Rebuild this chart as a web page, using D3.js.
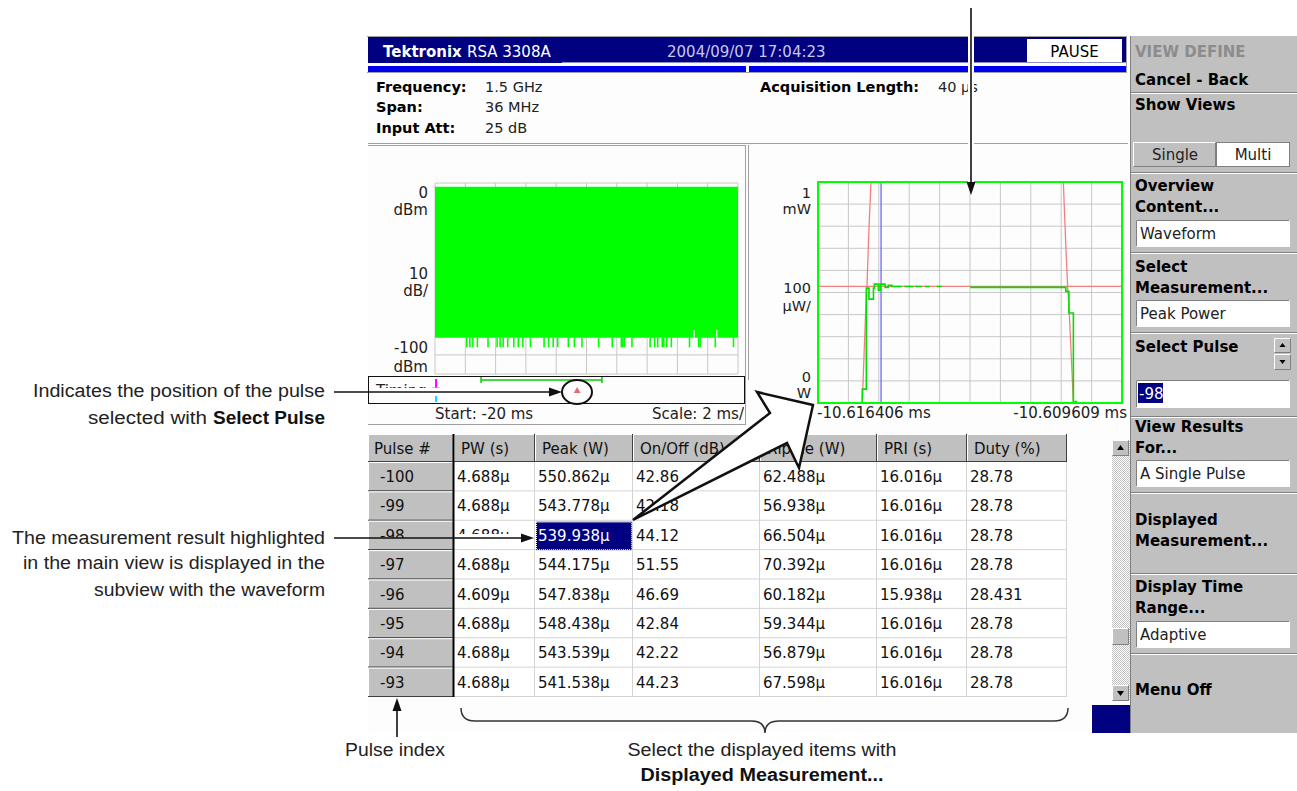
<!DOCTYPE html>
<html><head><meta charset="utf-8">
<script src="https://cdn.jsdelivr.net/npm/d3@7"></script>
<style>
html,body{margin:0;padding:0;background:#fff;}
svg{display:block;font-family:"DejaVu Sans",sans-serif;}
</style></head><body>
<svg id="c" width="1297" height="791"></svg>
<script>
// ---------------- DATA ----------------
const headerTitle = ["Tektronix", "RSA 3308A"];
const headerTime = "2004/09/07 17:04:23";
const headerState = "PAUSE";
const infoLabels = ["Frequency:", "Span:", "Input Att:"];
const infoValues = ["1.5 GHz", "36 MHz", "25 dB"];
const acqLabel = "Acquisition Length:";
const acqValue = "40 μs";

// overview (time domain, ms / dBm)
const overviewDomain = [-20, 0];
const overviewRange = [0, -100];
const overviewTop = -2;
const overviewFloor = -81;
const spikeTimes = [-17.9,-17.7,-17.5,-17.2,-16.5,-15.9,-15.7,-15.5,-15.2,-14.8,-14.5,-14.2,-13.7,-12.8,-12.5,-12.2,-11.9,-11.2,-10.8,-10.3,-9.2,-8.3,-7.7,-7.6,-7.5,-7.0,-5.8,-5.5,-5.3,-5.0,-4.9,-4.7,-4.4,-3.2,-2.6,-2.5,-1.5,-0.3];
const spikeLevels = [-86,-86,-86,-86,-86,-86,-86,-86,-86,-86,-86,-86,-86,-86,-86,-86,-86,-86,-86,-86,-86,-86,-86,-86,-86,-86,-86,-86,-86,-86,-86,-86,-86,-86,-86,-86,-86,-86];
const dropoutTimes = [-2.9, -1.4];
const dropoutLevel = -77;
const overviewYLabels = [["0","dBm"],["10","dB/"],["-100","dBm"]];
const overviewStart = "Start: -20 ms";
const overviewScale = "Scale: 2 ms/";
const timingLabel = "Timing:";
const analyzedRange = [-16.96, -8.98];
const triggerTime = -19.93;
const selectedPulseTime = -10.616;

// subview waveform (μs from start, μW)
const waveDomain = [0, 6.797];
const waveRange = [0, 1000];
const greenTrace = [[0,0],[0.99,63],[1.08,520],[1.14,470],[1.24,520],[1.26,538],[1.35,510],[1.39,538],[1.50,523],[1.57,533],[1.65,527],[1.87,527],[1.87,null],[1.93,527],[2.13,527],[2.13,null],[2.17,527],[2.32,527],[2.32,null],[2.39,527],[2.50,527],[2.50,null],[2.65,527],[2.77,527],[2.77,null],[3.40,523],[5.54,505],[5.61,407],[5.71,0],[5.75,7],[5.78,0],[6.797,0]];
const redLeft = [[0.99,0],[1.066,415],[1.096,536],[1.14,792],[1.185,1000]];
const redRight = [[5.485,1000],[5.54,716],[5.583,520],[5.61,445],[5.71,0]];
const redLevel = 528;
const blueMarker = 1.41;
const blueBaseline = [[1.0,0],[5.75,0]];
const waveYLabels = [["1","mW"],["100","μW/"],["0","W"]];
const waveXLabels = ["-10.616406 ms", "-10.609609 ms"];

// table
const tableColumns = ["Pulse #","PW (s)","Peak (W)","On/Off (dB)","Ripple (W)","PRI (s)","Duty (%)"];
const pulseIds = ["-100","-99","-98","-97","-96","-95","-94","-93"];
const pwValues = ["4.688μ","4.688μ","4.688μ","4.688μ","4.609μ","4.688μ","4.688μ","4.688μ"];
const peakValues = ["550.862μ","543.778μ","539.938μ","544.175μ","547.838μ","548.438μ","543.539μ","541.538μ"];
const onOffValues = ["42.86","42.18","44.12","51.55","46.69","42.84","42.22","44.23"];
const rippleValues = ["62.488μ","56.938μ","66.504μ","70.392μ","60.182μ","59.344μ","56.879μ","67.598μ"];
const priValues = ["16.016μ","16.016μ","16.016μ","16.016μ","15.938μ","16.016μ","16.016μ","16.016μ"];
const dutyValues = ["28.78","28.78","28.78","28.78","28.431","28.78","28.78","28.78"];
const selectedPulse = "-98";
const selectedColumn = 2;

// menu
const menuTitle = "VIEW DEFINE";
const menuItems = ["Cancel - Back","Show Views","Overview|Content...","Select|Measurement...","Select Pulse","View Results|For...","Displayed|Measurement...","Display Time|Range...","Menu Off"];
const viewButtons = ["Single","Multi"];
const menuBoxes = ["Waveform","Peak Power","-98","A Single Pulse","Adaptive"];

// annotations
const noteSelect = ["Indicates the position of the pulse", "selected with ", "Select Pulse"];
const noteHighlight = ["The measurement result highlighted","in the main view is displayed in the","subview with the waveform"];
const notePulseIndex = "Pulse index";
const noteDisplayed = ["Select the displayed items with","Displayed Measurement..."];

// ---------------- DRAW ----------------
const svg = d3.select("#c");
const F = 15;

function rect(g,x,y,w,h,fill,stroke){
  const r=g.append("rect").attr("x",x).attr("y",y).attr("width",w).attr("height",h).attr("fill",fill||"none");
  if(stroke) r.attr("stroke",stroke);
  return r;
}
function hline(g,x1,x2,y,c,w){g.append("line").attr("x1",x1).attr("x2",x2).attr("y1",y).attr("y2",y).attr("stroke",c).attr("stroke-width",w||1);}
function vline(g,x,y1,y2,c,w){g.append("line").attr("x1",x).attr("x2",x).attr("y1",y1).attr("y2",y2).attr("stroke",c).attr("stroke-width",w||1);}
function bevel(g,x,y,w,h,raised,fill){
  rect(g,x,y,w,h,fill||"#c0c0c0");
  const hi = raised?"#ffffff":"#808080", lo = raised?"#808080":"#ffffff";
  g.append("path").attr("d",`M${x+0.5},${y+h-0.5}V${y+0.5}H${x+w-0.5}`).attr("stroke",hi).attr("fill","none");
  g.append("path").attr("d",`M${x+0.5},${y+h-0.5}H${x+w-0.5}V${y+0.5}`).attr("stroke",lo).attr("fill","none");
}
function text(g,x,y,s,opt){
  opt=opt||{};
  const t=g.append("text").attr("x",x).attr("y",y).text(s)
    .attr("font-size",opt.size||F).attr("fill",opt.fill||"#000")
    .attr("font-weight",opt.bold?"bold":"normal")
    .attr("text-anchor",opt.anchor||"start");
  if(opt.family) t.attr("font-family",opt.family);
  if(opt.len) t.attr("textLength",opt.len).attr("lengthAdjust","spacingAndGlyphs");
  return t;
}

const scr = svg.append("g");
rect(scr,368,36,762,697,"#fdfdfd");

// ---- title bar
hline(scr,367,1127,36.5,"#a0a0a0");
rect(scr,368,37,758,26,"#000080");
hline(scr,562,1126,62.5,"#9090c0");
rect(scr,368,66,378,6,"#0000f0");
rect(scr,749,66,377,6,"#0000f0");
hline(scr,367,1127,72.5,"#a0a0a0");
vline(scr,1126.5,36,73,"#a0a0a0");
text(scr,383,57,headerTitle[0],{fill:"#fff",bold:true});
text(scr,467,57,headerTitle[1],{fill:"#fff"});
text(scr,667,57,headerTime,{fill:"#c8c8e8"});
rect(scr,1027,39,95,23,"#ffffff");
text(scr,1074.5,57,headerState,{anchor:"middle"});

// ---- info
infoLabels.forEach((l,i)=>{
  const y=[92,112,133][i];
  text(scr,376,y,l,{bold:true,size:14.5});
  text(scr,485,y,infoValues[i],{fill:"#222",size:14.5});
});
text(scr,760,92,acqLabel,{bold:true,size:14.5});
text(scr,938,92,acqValue,{fill:"#222",size:14.5});
hline(scr,368,1128,143.5,"#a0a0a0");

// ---- left overview panel
hline(scr,368,746,145.5,"#a0a0a0");
vline(scr,745.5,145,424,"#a0a0a0");
hline(scr,368,746,424.5,"#a0a0a0");
vline(scr,748.5,145,380,"#a0a0a0");

const ovX = d3.scaleLinear().domain(overviewDomain).range([435,738]);
const ovY = d3.scaleLinear().domain(overviewRange).range([183,374]);
const ov = scr.append("g");
ov.selectAll("line.gx").data(ovX.ticks(10)).join("line").attr("class","gx")
  .attr("x1",d=>ovX(d)).attr("x2",d=>ovX(d)).attr("y1",ovY(0)).attr("y2",ovY(-100))
  .attr("stroke","#c8c8c8");
ov.selectAll("line.gy").data(ovY.ticks(10)).join("line").attr("class","gy")
  .attr("x1",ovX(-20)).attr("x2",ovX(0)).attr("y1",d=>ovY(d)).attr("y2",d=>ovY(d))
  .attr("stroke","#c8c8c8");
const ovArea = d3.area().x(d=>ovX(d)).y0(ovY(overviewFloor)).y1(ovY(overviewTop));
ov.append("path").datum(overviewDomain).attr("d",ovArea).attr("fill","#00ff00");
ov.selectAll("line.sp").data(spikeTimes).join("line").attr("class","sp")
  .attr("x1",d=>ovX(d)).attr("x2",d=>ovX(d)).attr("y1",ovY(overviewFloor)).attr("y2",(d,i)=>ovY(spikeLevels[i]))
  .attr("stroke","#00ff00").attr("stroke-width",1.6);
ov.selectAll("line.dr").data(dropoutTimes).join("line").attr("class","dr")
  .attr("x1",d=>ovX(d)).attr("x2",d=>ovX(d)).attr("y1",ovY(overviewFloor)).attr("y2",ovY(dropoutLevel))
  .attr("stroke","#ffffff").attr("stroke-width",1.2);
[[ovY(0)+15,ovY(0)+32],[ovY(-50)+0,ovY(-50)+17],[ovY(-100)-21,ovY(-100)-2]].forEach((b,i)=>{
  text(ov,428,b[0],overviewYLabels[i][0],{anchor:"end",fill:"#222"});
  text(ov,428,b[1],overviewYLabels[i][1],{anchor:"end",fill:"#222"});
});
rect(ov,368.5,376.5,376,27,"none","#111");
svg.append("defs").html(`<clipPath id="tclip"><rect x="368" y="376" width="200" height="12"/></clipPath>
<clipPath id="rclip"><rect x="368" y="462" width="170" height="76"/></clipPath>
<clipPath id="lclip"><rect x="368" y="404" width="376" height="24"/></clipPath>
<pattern id="dith" width="2" height="2" patternUnits="userSpaceOnUse"><rect width="2" height="2" fill="#ffffff"/><rect width="1" height="1" fill="#c0c0c0"/><rect x="1" y="1" width="1" height="1" fill="#c0c0c0"/></pattern>`);
text(ov,376,396,timingLabel,{fill:"#222"}).attr("clip-path","url(#tclip)");
vline(ov,ovX(triggerTime),379,388,"#ff00ff",2);
vline(ov,ovX(triggerTime),388,402,"#00e0ff",2);
hline(ov,ovX(triggerTime)-4,ovX(triggerTime)+4,388,"#00e0ff",1);
hline(ov,ovX(analyzedRange[0]),ovX(analyzedRange[1]),380,"#00d000",1.5);
vline(ov,ovX(analyzedRange[0]),377,383,"#00d000",1.5);
vline(ov,ovX(analyzedRange[1]),377,383,"#00d000",1.5);
const tx = ovX(selectedPulseTime);
ov.append("path").attr("d",`M${tx},387L${tx+3.5},393L${tx-3.5},393Z`).attr("fill","#e07070");
text(ov,435,419,overviewStart,{fill:"#222"});
text(ov,744,419,overviewScale,{anchor:"end",fill:"#222"}).attr("clip-path","url(#lclip)");

// ---- right waveform subview
const wX = d3.scaleLinear().domain(waveDomain).range([818,1122]);
const wY = d3.scaleLinear().domain(waveRange).range([403,182]);
const wv = scr.append("g");
const xGrid = d3.range(11).map(i=>waveDomain[0]+i*(waveDomain[1]-waveDomain[0])/10);
wv.selectAll("line.gx").data(xGrid).join("line").attr("class","gx")
  .attr("x1",d=>wX(d)).attr("x2",d=>wX(d)).attr("y1",wY(0)).attr("y2",wY(1000)).attr("stroke","#c8c8c8");
wv.selectAll("line.gy").data(wY.ticks(10)).join("line").attr("class","gy")
  .attr("x1",wX(waveDomain[0])).attr("x2",wX(waveDomain[1])).attr("y1",d=>wY(d)).attr("y2",d=>wY(d)).attr("stroke","#c8c8c8");
const redLine = d3.line().x(d=>wX(d[0])).y(d=>wY(d[1]));
wv.append("path").attr("d",redLine(redLeft)).attr("fill","none").attr("stroke","#f08080").attr("stroke-width",1.3);
wv.append("path").attr("d",redLine(redRight)).attr("fill","none").attr("stroke","#f08080").attr("stroke-width",1.3);
hline(wv,wX(waveDomain[0]),wX(waveDomain[1]),wY(redLevel),"#f08080",1.3);
vline(wv,wX(blueMarker),wY(0),wY(1000),"#6a6aff",1.3);
wv.append("path").attr("d",redLine(blueBaseline)).attr("stroke","#6a6aff").attr("stroke-width",1.5);
const gLine = d3.line().defined(d=>d[1]!==null).curve(d3.curveStepAfter).x(d=>wX(d[0])).y(d=>wY(d[1]));
wv.append("path").attr("d",gLine(greenTrace)).attr("fill","none").attr("stroke","#00e000").attr("stroke-width",1.6);
rect(wv,wX(waveDomain[0]),wY(1000),wX(waveDomain[1])-wX(waveDomain[0]),wY(0)-wY(1000),"none","#00ff00").attr("stroke-width",2);
[[wY(1000)+16,wY(1000)+32],[wY(500)+0,wY(500)+18],[wY(0)-21,wY(0)-5]].forEach((b,i)=>{
  text(wv,811,b[0],waveYLabels[i][0],{anchor:"end",fill:"#222",size:14.5});
  text(wv,811,b[1],waveYLabels[i][1],{anchor:"end",fill:"#222",size:14.5});
});
text(wv,wX(waveDomain[0])-1,418,waveXLabels[0],{fill:"#222"});
text(wv,wX(waveDomain[1])+5,418,waveXLabels[1],{anchor:"end",fill:"#222"});

// ---- table
const colEdges = [368,454,535,633,760,877,967,1067];
const headTop = 434, headBot = 462, tabBot = 697;
const rowY = d3.scaleBand().domain(pulseIds).range([headBot,tabBot]);
const rows = pulseIds.map((id,i)=>[id,pwValues[i],peakValues[i],onOffValues[i],rippleValues[i],priValues[i],dutyValues[i]]);
const tb = scr.append("g");
rect(tb,454,headBot,613,tabBot-headBot,"#ffffff");
tableColumns.forEach((c,i)=>{
  const x=colEdges[i], w=colEdges[i+1]-x;
  bevel(tb,x,headTop,w,headBot-headTop,true);
  vline(tb,colEdges[i+1]-0.5,headTop,headBot,"#404040");
  text(tb,x+(i===0?6:7),454,c,{fill:"#111"});
});
hline(tb,368,1067,headBot-0.5,"#404040");
tb.selectAll("line.rl").data(pulseIds).join("line").attr("class","rl")
  .attr("x1",454).attr("x2",1067).attr("y1",d=>rowY(d)+rowY.bandwidth()-0.5).attr("y2",d=>rowY(d)+rowY.bandwidth()-0.5)
  .attr("stroke","#d4d4d4");
tb.selectAll("line.cl").data(colEdges.slice(2)).join("line").attr("class","cl")
  .attr("x1",d=>d-0.5).attr("x2",d=>d-0.5).attr("y1",headBot).attr("y2",tabBot).attr("stroke","#d4d4d4");
pulseIds.forEach(id=>{
  const y=rowY(id), h=rowY.bandwidth();
  bevel(tb,368,y,86,h,true);
  hline(tb,368,454,y+h-0.5,"#404040");
});
vline(tb,453.5,headTop,tabBot,"#000",2);
const hx = colEdges[selectedColumn], hy = rowY(selectedPulse);
rect(tb,hx+1,hy+1,colEdges[selectedColumn+1]-hx-2,rowY.bandwidth()-1,"#000080");
rect(tb,hx+1.5,hy+1.5,colEdges[selectedColumn+1]-hx-3,rowY.bandwidth()-2,"none","#ffffff").attr("stroke-dasharray","1,1");
rows.forEach((r,ri)=>{
  const y = rowY(pulseIds[ri]) + 20;
  r.forEach((v,ci)=>{
    const isSel = pulseIds[ri]===selectedPulse && ci===selectedColumn;
    const t = text(tb, colEdges[ci]+(ci===0?12:3), y, v, {fill:isSel?"#fff":"#111"});
    if(pulseIds[ri]===selectedPulse && ci<selectedColumn) t.attr("clip-path","url(#rclip)");
  });
});

// ---- scrollbar
rect(scr,1112,440,18,260,"url(#dith)");
bevel(scr,1112,440,17,16,true);
scr.append("path").attr("d","M1120.5,445L1124,450H1117Z").attr("fill","#000");
bevel(scr,1112,628,17,17,true);
bevel(scr,1112,685,17,16,true);
scr.append("path").attr("d","M1117,691H1124L1120.5,696Z").attr("fill","#000");
rect(scr,1092,705,38,28,"#000080");

// ---- menu panel
const mn = svg.append("g");
rect(mn,1130,36,167,697,"#c0c0c0");
vline(mn,1130.5,36,733,"#808080");
[92,172,252,332,416,492,573,653].forEach(y=>{hline(mn,1131,1297,y+0.5,"#808080");hline(mn,1131,1297,y+1.5,"#ffffff");});
const mlab = (y,s,fill)=>text(mn,1135,y,s,{bold:true,fill:fill||"#000"});
mlab(57,menuTitle,"#8c8c8c");
mlab(85,menuItems[0]);
mlab(110,menuItems[1]);
bevel(mn,1133,142,83,25,true);
rect(mn,1216.5,142.5,73,24,"#ffffff","#808080");
text(mn,1175,160,viewButtons[0],{anchor:"middle",fill:"#222"});
text(mn,1253,160,viewButtons[1],{anchor:"middle",fill:"#222"});
const two = (y,s)=>{const p=s.split("|"); mlab(y,p[0]); mlab(y+21,p[1]);};
two(191,menuItems[2]);
const box = (y,h,s)=>{bevel(mn,1136,y,154,h,false,"#ffffff"); return text(mn,1140,y+h-8,s,{fill:"#222"});};
box(220,27,menuBoxes[0]);
two(272,menuItems[3]);
box(300,27,menuBoxes[1]);
mlab(352,menuItems[4]);
bevel(mn,1274,338,17,15,true);
mn.append("path").attr("d","M1282.5,343L1285.5,347H1279.5Z").attr("fill","#000");
bevel(mn,1274,354,17,16,true);
mn.append("path").attr("d","M1279.5,360H1285.5L1282.5,364Z").attr("fill","#000");
bevel(mn,1136,380,154,28,false,"#ffffff");
rect(mn,1138,383,25,20,"#000080");
text(mn,1139,399,menuBoxes[2],{fill:"#fff"});
two(432,menuItems[5]);
box(460,27,menuBoxes[3]);
two(525,menuItems[6]);
two(592,menuItems[7]);
box(621,27,menuBoxes[4]);
mlab(695,menuItems[8]);

// ---------------- ANNOTATIONS ----------------
const ann = svg.append("g");
const AF = "Liberation Sans";
function arrow(x1,y1,x2,y2,halo,hx1){
  const a=Math.atan2(y2-y1,x2-x1), L=13, W=4.5;
  const bx=x2-L*Math.cos(a), by=y2-L*Math.sin(a);
  if(halo){ann.append("line").attr("x1",hx1!==undefined?hx1:x1).attr("y1",y1).attr("x2",bx).attr("y2",by).attr("stroke","#fff").attr("stroke-width",halo);}
  ann.append("line").attr("x1",x1).attr("y1",y1).attr("x2",bx).attr("y2",by).attr("stroke","#111").attr("stroke-width",1.6);
  ann.append("path").attr("d",`M${x2},${y2}L${bx-W*Math.sin(a)},${by+W*Math.cos(a)}L${bx+W*Math.sin(a)},${by-W*Math.cos(a)}Z`).attr("fill","#111");
}
arrow(971,8,971,195,6);
text(ann,325,397,noteSelect[0],{family:AF,size:18,anchor:"end",len:292,fill:"#222"});
text(ann,207,424,noteSelect[1].trim(),{family:AF,size:18,anchor:"end",len:119,fill:"#222"});
text(ann,325,424,noteSelect[2],{family:AF,size:18,anchor:"end",len:112,bold:true,fill:"#111"});
arrow(334,392,562,392,8,369);
ann.append("ellipse").attr("cx",577).attr("cy",392).attr("rx",15).attr("ry",12).attr("fill","none").attr("stroke","#111").attr("stroke-width",2);
noteHighlight.forEach((s,i)=>{
  text(ann,325,[544,569,596][i],s,{family:AF,size:18,anchor:"end",len:[313,302,231][i],fill:"#222"});
});
arrow(334,538,534,538,8,455);
// big hollow arrow from highlighted cell to subview
ann.append("path").attr("d","M633,520L770,413L757,392L813,405L799,468L787,443Z")
  .attr("fill","#ffffff").attr("stroke","#111").attr("stroke-width",2.5).attr("stroke-linejoin","miter");
arrow(397,737,397,698);
text(ann,395,756,notePulseIndex,{family:AF,size:18,anchor:"middle",len:100,fill:"#222"});
ann.append("path").attr("d","M461,708Q461,721 475,721H751Q765,721 765,733Q765,721 779,721H1054Q1068,721 1068,708")
  .attr("fill","none").attr("stroke","#333").attr("stroke-width",1.5);
text(ann,762,756,noteDisplayed[0],{family:AF,size:18,anchor:"middle",len:269,fill:"#222"});
text(ann,762,781,noteDisplayed[1],{family:AF,size:18,anchor:"middle",len:243,bold:true,fill:"#111"});
</script></body></html>
